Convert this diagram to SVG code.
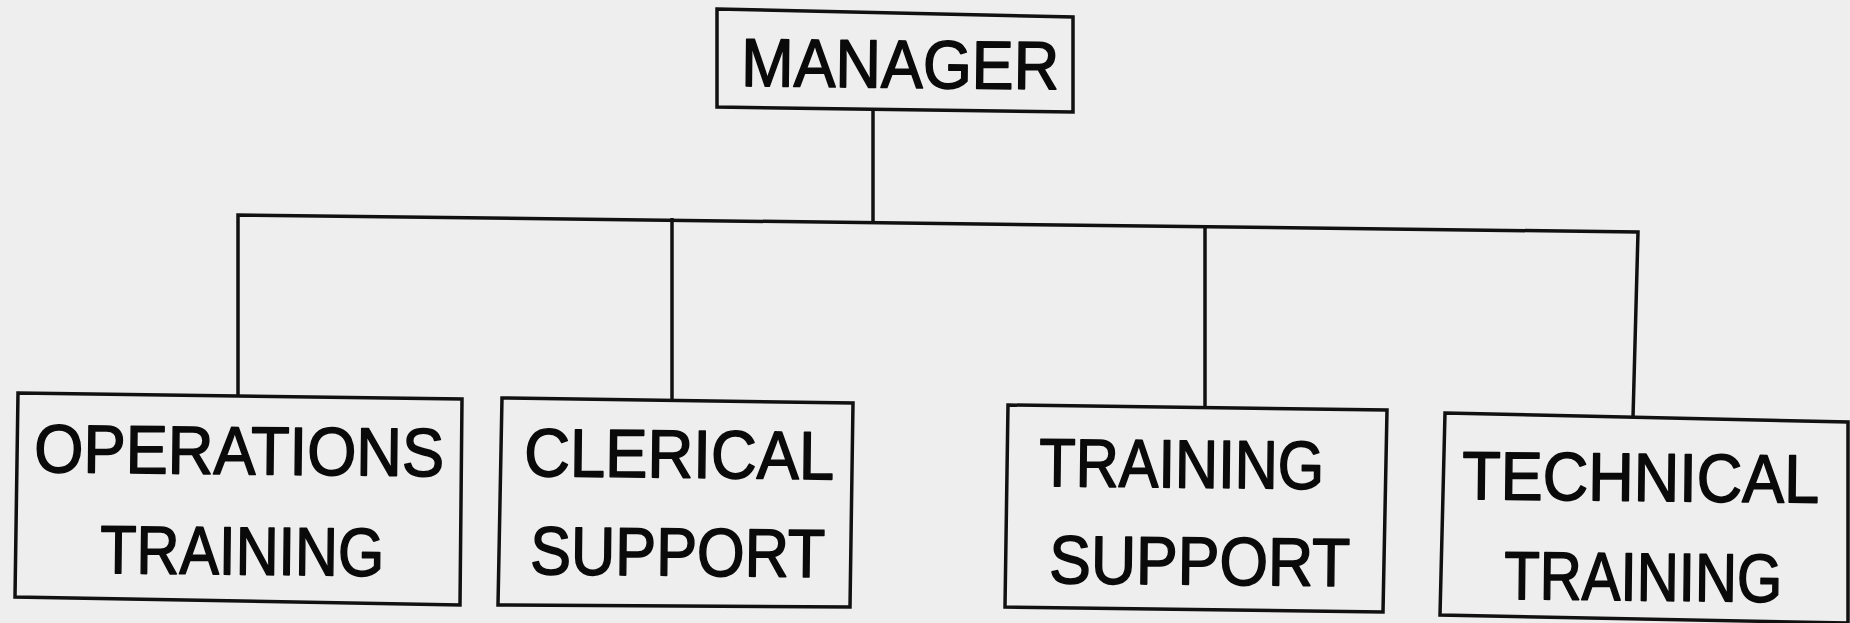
<svg xmlns="http://www.w3.org/2000/svg" width="1850" height="623" viewBox="0 0 1850 623">
  <style>
    .box { fill: none; stroke: #111; stroke-width: 3.5; stroke-linejoin: miter; }
    .wire { fill: none; stroke: #111; stroke-width: 3.5; }
    .label { font-family: "Liberation Sans", Arial, sans-serif; font-size: 68px; fill: #0a0a0a; stroke: #0a0a0a; stroke-width: 1.6; stroke-linejoin: round; }
  </style>
  <rect width="1850" height="623" fill="#eeeeee"/>

  <!-- connectors -->
  <g id="connectors">
    <line class="wire" x1="873" y1="111" x2="873" y2="222"/>
    <polyline class="wire" points="238,395 238,215 1638,232 1633,418"/>
    <line class="wire" x1="672" y1="218" x2="672" y2="400"/>
    <line class="wire" x1="1205" y1="225" x2="1205" y2="408"/>
  </g>

  <g id="manager">
    <polygon class="box" points="717,9 1073,17 1073,112 717,107"/>
    <text class="label" x="741" y="86" textLength="318" lengthAdjust="spacingAndGlyphs" transform="rotate(0.6 741 86)">MANAGER</text>
  </g>

  <g id="operations-training">
    <polygon class="box" points="18,393 462,399 460,605 15,597"/>
    <text class="label" x="34" y="472" textLength="410" lengthAdjust="spacingAndGlyphs" transform="rotate(0.6 34 472)">OPERATIONS</text>
    <text class="label" x="100" y="573" textLength="284" lengthAdjust="spacingAndGlyphs" transform="rotate(0.6 100 573)">TRAINING</text>
  </g>

  <g id="clerical-support">
    <polygon class="box" points="502,398 853,403 850,607 498,605"/>
    <text class="label" x="524" y="476" textLength="310" lengthAdjust="spacingAndGlyphs" transform="rotate(0.6 524 476)">CLERICAL</text>
    <text class="label" x="530" y="574" textLength="295" lengthAdjust="spacingAndGlyphs" transform="rotate(0.6 530 574)">SUPPORT</text>
  </g>

  <g id="training-support">
    <polygon class="box" points="1008,405 1387,410 1383,612 1005,607"/>
    <text class="label" x="1039" y="486" textLength="285" lengthAdjust="spacingAndGlyphs" transform="rotate(0.6 1039 486)">TRAINING</text>
    <text class="label" x="1049" y="583" textLength="301" lengthAdjust="spacingAndGlyphs" transform="rotate(0.6 1049 583)">SUPPORT</text>
  </g>

  <g id="technical-training">
    <polygon class="box" points="1445,413 1848,422 1848,623 1440,615"/>
    <text class="label" x="1462" y="499" textLength="357" lengthAdjust="spacingAndGlyphs" transform="rotate(0.6 1462 499)">TECHNICAL</text>
    <text class="label" x="1504" y="599" textLength="278" lengthAdjust="spacingAndGlyphs" transform="rotate(0.6 1504 599)">TRAINING</text>
  </g>
</svg>
